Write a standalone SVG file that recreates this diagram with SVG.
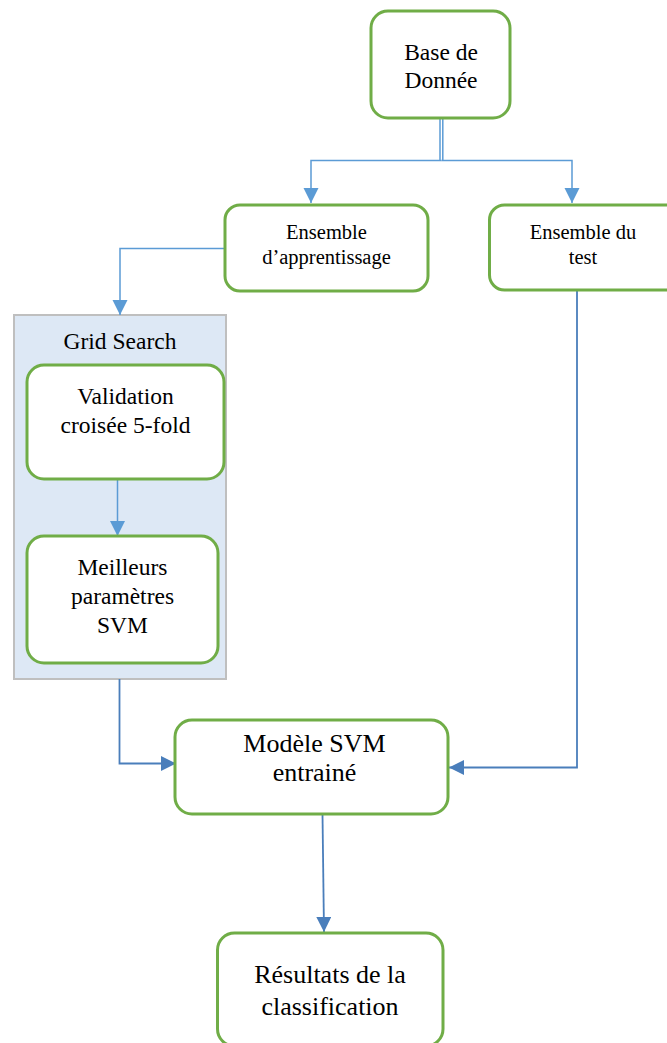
<svg xmlns="http://www.w3.org/2000/svg" width="667" height="1043" viewBox="0 0 667 1043">
  <style>
    .box { fill: #ffffff; stroke: #70ad47; stroke-width: 3; }
    .panel { fill: #dde8f5; stroke: #bfbfbf; stroke-width: 2; }
    .lt { fill: none; stroke: #5b9bd5; stroke-width: 1.5; }
    .dk { fill: none; stroke: #4a7ebb; stroke-width: 1.8; }
    text { font-family: 'Liberation Serif', 'DejaVu Serif', serif; fill: #000000; text-anchor: middle; }
    .s20 { font-size: 20.5px; }
    .s23 { font-size: 23.5px; }
    .s26 { font-size: 26px; }
  </style>
  <defs>
    <marker id="ahL" markerWidth="16" markerHeight="16" refX="15" refY="7.5" orient="auto" markerUnits="userSpaceOnUse">
      <path d="M0,0 L15,7.5 L0,15 Z" fill="#5b9bd5"/>
    </marker>
    <marker id="ahD" markerWidth="16" markerHeight="16" refX="15" refY="7.5" orient="auto" markerUnits="userSpaceOnUse">
      <path d="M0,0 L15,7.5 L0,15 Z" fill="#4a7ebb"/>
    </marker>
  </defs>

  <rect width="667" height="1043" fill="#ffffff"/>

  <!-- Grid search container -->
  <g id="grid-search">
    <rect class="panel" x="14" y="315" width="212" height="364"/>
    <text class="s23" x="120" y="349">Grid Search</text>
  </g>

  <g id="connectors">
    <!-- database split (double stem) -->
    <line class="lt" x1="440" y1="118" x2="440" y2="160.5" stroke-width="1.2"/>
    <line class="lt" x1="442.8" y1="118" x2="442.8" y2="160.5" stroke-width="1.2"/>
    <path class="lt" d="M441.4,160.5 H311 V203" marker-end="url(#ahL)"/>
    <path class="lt" d="M441.4,160.5 H572 V203" marker-end="url(#ahL)"/>
    <!-- training set to grid search -->
    <path class="lt" d="M225,248.5 H120 V315" marker-end="url(#ahL)"/>
    <!-- cross-validation to best parameters -->
    <path class="lt" d="M117.5,479 V536" marker-end="url(#ahL)"/>
    <!-- grid search to trained model -->
    <path class="dk" d="M119.5,679 V763.5 H176" marker-end="url(#ahD)"/>
    <!-- test set to trained model -->
    <path class="dk" d="M577,282 V767.5 H449" marker-end="url(#ahD)"/>
    <!-- trained model to results -->
    <path class="dk" d="M322.5,814 L324,932" marker-end="url(#ahD)"/>
  </g>

  <g id="base-donnee">
    <rect class="box" x="371" y="11" width="139" height="107" rx="17"/>
    <text class="s23" x="441" y="60">Base de</text>
    <text class="s23" x="441" y="88">Donnée</text>
  </g>

  <g id="ensemble-apprentissage">
    <rect class="box" x="225" y="205" width="203" height="86" rx="15"/>
    <text class="s20" x="326.5" y="239">Ensemble</text>
    <text class="s20" x="326.5" y="264">d’apprentissage</text>
  </g>

  <g id="ensemble-test">
    <rect class="box" x="489.5" y="205" width="200" height="85" rx="15"/>
    <text class="s20" x="583" y="239">Ensemble du</text>
    <text class="s20" x="583" y="264">test</text>
  </g>

  <g id="validation-croisee">
    <rect class="box" x="27" y="365" width="197" height="114" rx="17"/>
    <text class="s23" x="125.5" y="404">Validation</text>
    <text class="s23" x="125.5" y="432.5">croisée 5-fold</text>
  </g>

  <g id="meilleurs-parametres">
    <rect class="box" x="27" y="536" width="191" height="127" rx="17"/>
    <text class="s23" x="122.5" y="575">Meilleurs</text>
    <text class="s23" x="122.5" y="604">paramètres</text>
    <text class="s23" x="122.5" y="633">SVM</text>
  </g>

  <g id="modele-svm">
    <rect class="box" x="175" y="720" width="273" height="94" rx="17"/>
    <text class="s26" x="314.5" y="751.5">Modèle SVM</text>
    <text class="s26" x="314.5" y="780.5">entrainé</text>
  </g>

  <g id="resultats">
    <rect class="box" x="217.5" y="933" width="225.5" height="113" rx="17"/>
    <text class="s26" x="330" y="983">Résultats de la</text>
    <text class="s26" x="330" y="1015">classification</text>
  </g>
</svg>
